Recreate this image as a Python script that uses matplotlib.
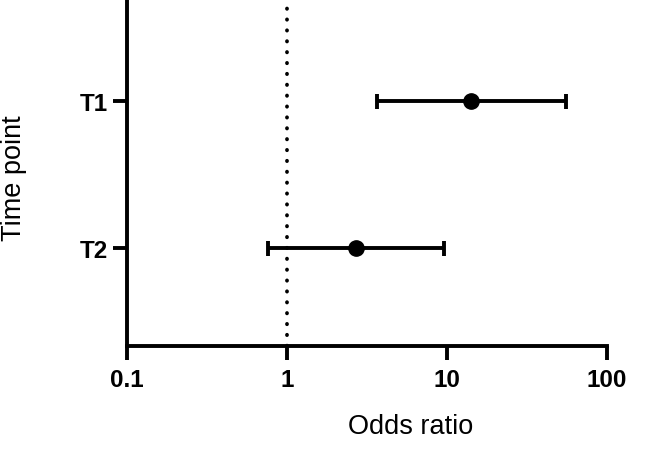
import matplotlib
matplotlib.use('Agg')
import matplotlib.pyplot as plt
from matplotlib.ticker import NullLocator

# odds ratios with 95% CI
labels = ['T1', 'T2']
odds = [14.2, 2.68]
ci_low = [3.65, 0.76]
ci_high = [55.4, 9.52]
xticks = [0.1, 1, 10, 100]
xtick_labels = ['0.1', '1', '10', '100']

plt.rcParams['font.family'] = ['Liberation Sans', 'DejaVu Sans']

fig = plt.figure(figsize=(6.66, 4.52), dpi=100)
ax = fig.add_axes([0.1907, 0.233, 0.7207, 0.767])

ypos = list(range(1, len(labels) + 1))
err = [[o - l for o, l in zip(odds, ci_low)],
       [h - o for o, h in zip(odds, ci_high)]]

ax.axvline(1, color='black', lw=2.7, linestyle=(0, (0.1, 2.8)),
           dash_capstyle='round', zorder=1)
ax.errorbar(odds, ypos, xerr=err, fmt='o', color='black', ms=11,
            elinewidth=2.8, capsize=5.4, capthick=2.8, zorder=3)

ax.set_xscale('log')
ax.set_xlim(0.1, 100)
ax.set_ylim(2.668, 0.305)
ax.set_xticks(xticks)
ax.set_xticklabels(xtick_labels)
ax.xaxis.set_minor_locator(NullLocator())
ax.set_yticks(ypos)
ax.set_yticklabels(labels)

for s in ['top', 'right']:
    ax.spines[s].set_visible(False)
for s in ['left', 'bottom']:
    ax.spines[s].set_linewidth(2.8)
ax.tick_params(width=2.8, length=10, labelsize=17.5)
ax.tick_params(axis='x', pad=6)
ax.tick_params(axis='y', pad=3.5)
for t in ax.get_xticklabels() + ax.get_yticklabels():
    t.set_fontweight('bold')

fig.text(0.616, 0.055, 'Odds ratio', fontsize=19.5, ha='center', va='center')
fig.text(0.021, 0.606, 'Time point', fontsize=19.5, rotation=90,
         ha='center', va='center')

fig.savefig('out.png', dpi=100)
